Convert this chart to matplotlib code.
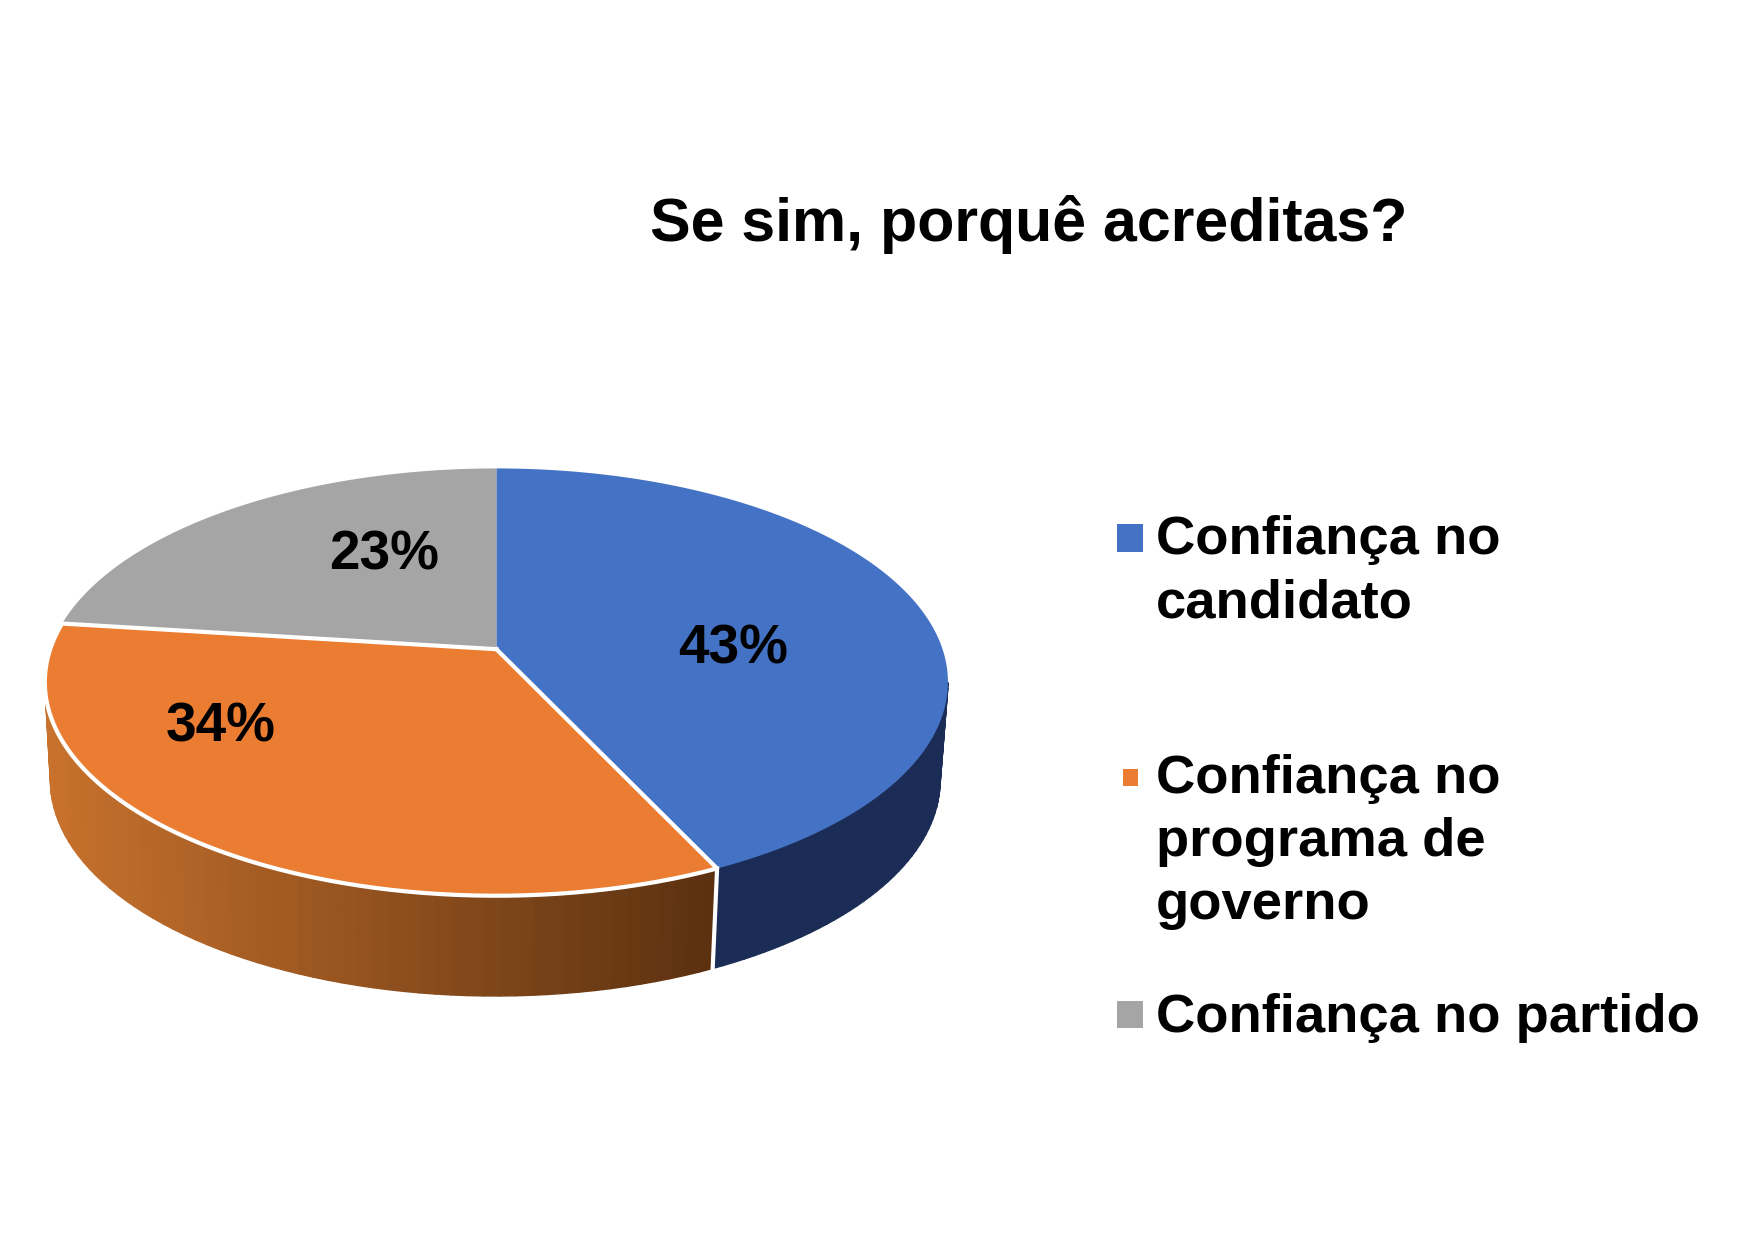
import numpy as np
import matplotlib
matplotlib.use("Agg")
import matplotlib.pyplot as plt
from matplotlib.collections import PolyCollection
from matplotlib.colors import to_rgb

title = "Se sim, porquê acreditas?"
categories = ["Confiança no\ncandidato", "Confiança no\nprograma de\ngoverno", "Confiança no partido"]
values = [43, 34, 23]
top_colors = ["#4472C4", "#EB7D33", "#A5A5A5"]

plt.rcParams["font.family"] = ["Liberation Sans", "DejaVu Sans"]
W, H = 1749, 1241
fig = plt.figure(figsize=(W / 100, H / 100), dpi=100, facecolor="white")
ax = fig.add_axes([0, 0, 1, 1])
ax.set_xlim(0, W)
ax.set_ylim(H, 0)
ax.axis("off")

K = 0.154
S = 1749 / 1568


def project(deg, cx, cy, a, b):
    t = np.radians(deg)
    u, v = np.sin(t), np.cos(t)
    d = 1 + K * v
    return cx + b * u / d, cy - a * v / d


def top(deg):
    return project(deg, 445 * S, 582 * S, 187 * S, 400 * S)


def bottom(deg):
    return project(deg, 444 * S, 670 * S, 188.6 * S, 394 * S)


edges = np.concatenate([[0], np.cumsum(values)]) / sum(values) * 360


# side walls
def wall_quads(a0, a1, n):
    ts = np.linspace(a0, a1, n + 1)
    xt, yt = top(ts)
    xb, yb = bottom(ts)
    return [[(xt[i], yt[i]), (xt[i + 1], yt[i + 1]), (xb[i + 1], yb[i + 1]), (xb[i], yb[i])] for i in range(n)]


blue_wall = wall_quads(99, edges[1], 40)
ax.add_collection(PolyCollection(blue_wall, facecolors="#1B2D56", edgecolors="#1B2D56", linewidths=1.0))

n = 60
orange_wall = wall_quads(edges[1], 261, n)
xs = np.array([q[0][0] for q in orange_wall])
f = (xs - xs.min()) / (xs.max() - xs.min())
c_left, c_right = np.array(to_rgb("#C8722D")), np.array(to_rgb("#5C3110"))
cols = [tuple(c_left + (c_right - c_left) * fi) for fi in f]
ax.add_collection(PolyCollection(orange_wall, facecolors=cols, edgecolors=cols, linewidths=1.0))

# top faces
apex = (445 * S, 582 * S)
slices = {}
for i, c in enumerate(top_colors):
    ts = np.linspace(edges[i], edges[i + 1], 200)
    x, y = top(ts)
    px = np.concatenate([[apex[0]], x])
    py = np.concatenate([[apex[1]], y])
    slices[i] = (px, py)
    ax.fill(px, py, color=c, lw=0)

# white separators
px, py = slices[1]
ax.plot(np.append(px, px[0]), np.append(py, py[0]), color="white", lw=3.0, solid_joinstyle="round")
xt, yt = top(edges[1])
xb, yb = bottom(edges[1])
ax.plot([xt, xb], [yt, yb], color="white", lw=3.0)

# percentage labels
label_pos = [(657, 582), (198, 652), (344, 498)]
for v, (x, y) in zip(values, label_pos):
    ax.text(x * S, y * S, f"{v}%", fontsize=39.5, fontweight="bold", ha="center", va="center", color="black")

ax.text(922 * S, 201 * S, title, fontsize=43.8, fontweight="bold", ha="center", va="center", color="black")

# legend
swatches = [(1117, 524, 26, 28), (1123, 769, 15, 17), (1117, 1001, 26, 27)]
text_y = [479.5, 693.5, 907.5]
for cat, c, (x, y, w, h), ty in zip(categories, top_colors, swatches, text_y):
    ax.fill([x, x + w, x + w, x], [y, y, y + h, y + h], color=c, lw=0)
    for j, line in enumerate(cat.split("\n")):
        ax.text(1156, (ty + j * 56.5) * S, line, fontsize=39.2, fontweight="bold", ha="left", va="center_baseline", color="black")

fig.savefig("out.png", dpi=100, facecolor="white")
